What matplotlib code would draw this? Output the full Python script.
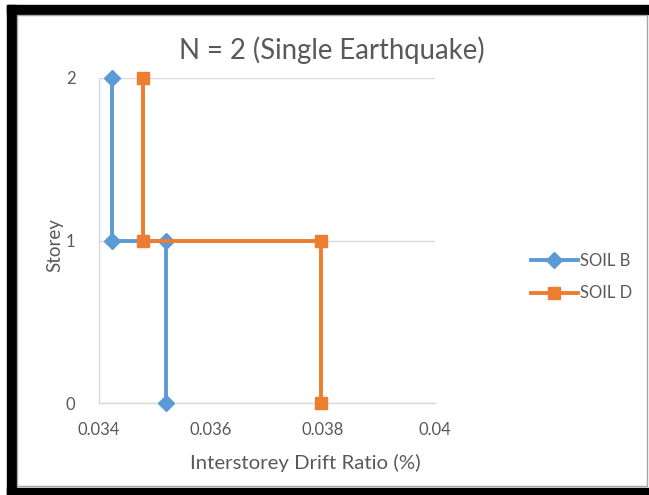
import matplotlib.pyplot as plt
from matplotlib.patches import Rectangle

# drift ratio (%) per storey level for each soil class
storey = [0, 1, 1, 2]
soil_b_drift = [0.0352, 0.0352, 0.03423, 0.03423]
soil_d_drift = [0.03796, 0.03796, 0.03478, 0.03478]

x_ticks = [0.034, 0.036, 0.038, 0.04]
x_tick_labels = ["0.034", "0.036", "0.038", "0.04"]
y_ticks = [0, 1, 2]

plt.rcParams["font.family"] = ["Lato", "DejaVu Sans"]
text_col = "#595959"
grid_col = "#D9D9D9"

W, H = 649, 495
fig = plt.figure(figsize=(W / 100, H / 100), dpi=100)
fig.patch.set_facecolor("white")


def fx(px):
    return px / W


def fy(py):
    return 1 - py / H


# black frame around the chart area
for x0, y0, x1, y1 in [(7, 5, 16, 495), (7, 5, 649, 14), (7, 488, 649, 495)]:
    fig.patches.append(Rectangle((fx(x0), fy(y1)), fx(x1) - fx(x0), fy(y0) - fy(y1),
                                 transform=fig.transFigure, color="black", zorder=0))
fig.patches.append(Rectangle((fx(16.5), fy(486)), fx(647) - fx(16.5), fy(15) - fy(486),
                             transform=fig.transFigure, fill=False, edgecolor="#A6A6A6",
                             linewidth=1, zorder=0))

ax = fig.add_axes([fx(99), fy(403), fx(435) - fx(99), fy(78) - fy(403)])

ax.plot(soil_b_drift, storey, color="#5B9BD5", lw=2.8, marker="D", ms=8.5,
        label="SOIL B", clip_on=False, zorder=3)
ax.plot(soil_d_drift, storey, color="#ED7D31", lw=2.8, marker="s", ms=9,
        label="SOIL D", clip_on=False, zorder=4)

ax.set_xlim(0.034, 0.04)
ax.set_ylim(0, 2)
ax.set_xticks(x_ticks)
ax.set_xticklabels(x_tick_labels)
ax.set_yticks(y_ticks)
ax.tick_params(length=0, labelsize=12, labelcolor=text_col)
ax.tick_params(axis="x", pad=14)
ax.tick_params(axis="y", pad=17)
ax.grid(axis="y", color=grid_col, lw=1)
for side in ["top", "right"]:
    ax.spines[side].set_visible(False)
for side in ["left", "bottom"]:
    ax.spines[side].set_color(grid_col)
    ax.spines[side].set_linewidth(1)

fig.text(fx(332), fy(50), "N = 2 (Single Earthquake)", ha="center", va="center",
         fontsize=19.8, color=text_col)
fig.text(fx(305), fy(463), "Interstorey Drift Ratio (%)", ha="center", va="center",
         fontsize=14.7, color=text_col)
fig.text(fx(55), fy(245), "Storey", ha="center", va="center", rotation=90,
         fontsize=13.5, color=text_col)

leg = fig.legend(loc="center left", bbox_to_anchor=(fx(516), fy(277)), frameon=False,
                 fontsize=12, labelcolor=text_col, handlelength=2.8, handletextpad=0.15,
                 labelspacing=1.0)

fig.savefig("out.png", dpi=100)
